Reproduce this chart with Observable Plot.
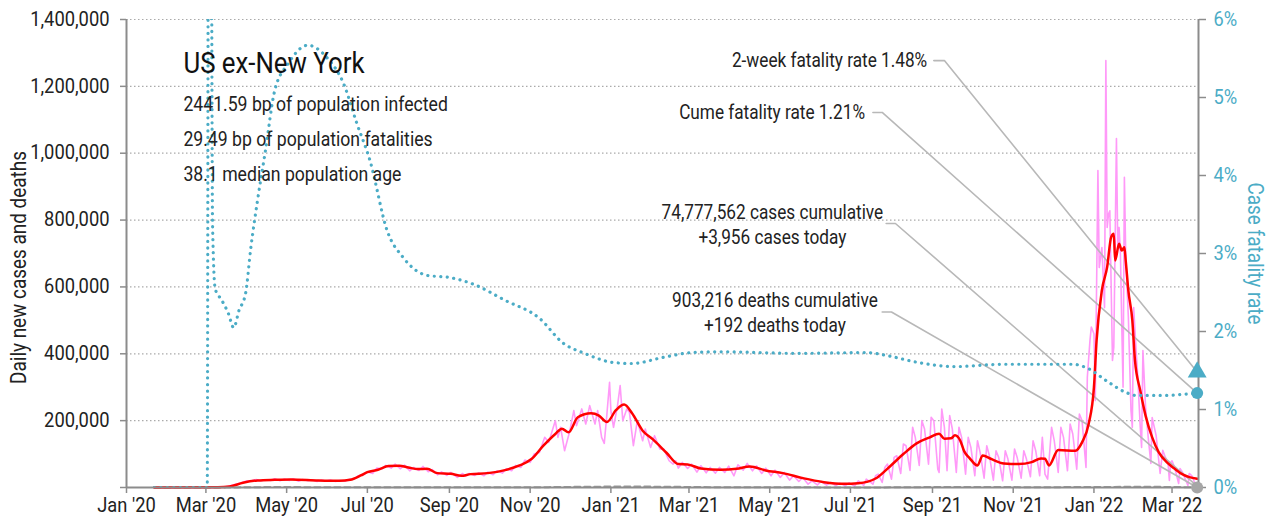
<!DOCTYPE html>
<html><head><meta charset="utf-8">
<script src="https://cdn.jsdelivr.net/npm/d3@7"></script>
<script src="https://cdn.jsdelivr.net/npm/@observablehq/plot@0.6"></script>
<style>
html,body{margin:0;padding:0;background:#fff;}
#chart svg{display:block;}
</style></head><body><div id="chart"></div>
<script>
// ---------- data ----------
const xDomain = ["2020-01-01", "2022-03-21"];
const yMax = 1400000;
const cfrMax = 6;
const caseTicks = [0, 200000, 400000, 600000, 800000, 1000000, 1200000, 1400000];
const cfrTicks = [0, 1, 2, 3, 4, 5, 6];
const monthTicks = ["2020-01-01","2020-03-01","2020-05-01","2020-07-01","2020-09-01","2020-11-01",
  "2021-01-01","2021-03-01","2021-05-01","2021-07-01","2021-09-01","2021-11-01","2022-01-01","2022-03-01"];

const title = "US ex-New York";
const subtitleLines = ["2441.59 bp of population infected", "29.49 bp of population fatalities", "38.1 median population age"];
const yLabelLeft = "Daily new cases and deaths";
const yLabelRight = "Case fatality rate";
const twoWeekRate = 1.48;
const cumeRate = 1.21;
const labelTwoWeek = "2-week fatality rate 1.48%";
const labelCume = "Cume fatality rate 1.21%";
const labelCases = ["74,777,562 cases cumulative", "+3,956 cases today"];
const labelDeaths = ["903,216 deaths cumulative", "+192 deaths today"];

const dailyCases = [
["2020-01-22",0],["2020-02-29",0],["2020-03-08",100],["2020-03-11",400],["2020-03-15",1500],["2020-03-18",3500],
["2020-03-22",8000],["2020-03-25",11000],["2020-03-29",16000],["2020-04-01",20000],["2020-04-05",21000],["2020-04-08",24000],
["2020-04-12",20000],["2020-04-15",23000],["2020-04-19",21000],["2020-04-22",26000],["2020-04-26",20000],["2020-04-29",25000],
["2020-05-03",21000],["2020-05-06",26000],["2020-05-10",19000],["2020-05-13",24000],["2020-05-17",20000],["2020-05-20",23000],
["2020-05-24",18000],["2020-05-27",22000],["2020-05-31",19000],["2020-06-03",22000],["2020-06-07",18000],["2020-06-10",21000],
["2020-06-14",19000],["2020-06-17",24000],["2020-06-21",26000],["2020-06-24",35000],["2020-06-28",38000],["2020-07-01",47000],
["2020-07-05",42000],["2020-07-08",58000],["2020-07-12",56000],["2020-07-15",66000],["2020-07-19",58000],["2020-07-22",70000],
["2020-07-26",56000],["2020-07-29",67000],["2020-08-02",50000],["2020-08-05",60000],["2020-08-09",51000],["2020-08-12",63000],
["2020-08-16",47000],["2020-08-19",54000],["2020-08-23",38000],["2020-08-26",47000],["2020-08-30",36000],["2020-09-02",45000],
["2020-09-07",30000],["2020-09-11",42000],["2020-09-13",34000],["2020-09-16",42000],["2020-09-20",36000],["2020-09-23",44000],
["2020-09-27",35000],["2020-09-30",46000],["2020-10-04",38000],["2020-10-07",50000],["2020-10-11",43000],["2020-10-14",56000],
["2020-10-18",50000],["2020-10-21",66000],["2020-10-25",60000],["2020-10-28",82000],["2020-11-01",75000],["2020-11-04",100000],
["2020-11-08",105000],["2020-11-12",150000],["2020-11-15",135000],["2020-11-20",200000],["2020-11-22",150000],["2020-11-24",180000],
["2020-11-27",110000],["2020-11-29",140000],["2020-12-01",170000],["2020-12-04",230000],["2020-12-06",185000],["2020-12-10",235000],
["2020-12-13",190000],["2020-12-16",245000],["2020-12-20",190000],["2020-12-22",230000],["2020-12-25",150000],["2020-12-27",132000],
["2020-12-29",220000],["2020-12-31",315000],["2021-01-01",230000],["2021-01-03",180000],["2021-01-06",245000],["2021-01-08",305000],
["2021-01-10",200000],["2021-01-13",235000],["2021-01-15",225000],["2021-01-18",125000],["2021-01-21",200000],["2021-01-25",140000],
["2021-01-27",175000],["2021-01-31",120000],["2021-02-03",155000],["2021-02-07",115000],["2021-02-10",115000],["2021-02-14",80000],
["2021-02-17",70000],["2021-02-19",80000],["2021-02-21",58000],["2021-02-24",75000],["2021-02-28",57000],["2021-03-03",70000],
["2021-03-07",46000],["2021-03-10",65000],["2021-03-14",44000],["2021-03-17",60000],["2021-03-21",43000],["2021-03-24",60000],
["2021-03-28",45000],["2021-03-31",64000],["2021-04-04",35000],["2021-04-07",68000],["2021-04-11",52000],["2021-04-14",72000],
["2021-04-18",50000],["2021-04-21",65000],["2021-04-25",42000],["2021-04-28",58000],["2021-05-02",35000],["2021-05-05",52000],
["2021-05-09",30000],["2021-05-12",45000],["2021-05-16",22000],["2021-05-19",35000],["2021-05-23",18000],["2021-05-26",30000],
["2021-05-30",10000],["2021-06-02",20000],["2021-06-06",8000],["2021-06-09",18000],["2021-06-13",7000],["2021-06-16",15000],
["2021-06-20",6000],["2021-06-23",13000],["2021-06-27",5000],["2021-06-30",14000],["2021-07-04",4000],["2021-07-07",20000],
["2021-07-11",6000],["2021-07-13",25000],["2021-07-18",10000],["2021-07-20",35000],["2021-07-22",40000],["2021-07-25",15000],
["2021-07-27",60000],["2021-07-29",70000],["2021-08-01",25000],["2021-08-03",90000],["2021-08-05",95000],["2021-08-08",42000],
["2021-08-10",130000],["2021-08-12",125000],["2021-08-15",51000],["2021-08-17",180000],["2021-08-19",150000],["2021-08-22",66000],
["2021-08-24",200000],["2021-08-26",175000],["2021-08-29",70000],["2021-08-31",210000],["2021-09-02",200000],["2021-09-05",55000],
["2021-09-06",45000],["2021-09-08",235000],["2021-09-10",180000],["2021-09-12",50000],["2021-09-14",215000],["2021-09-16",175000],
["2021-09-19",45000],["2021-09-21",180000],["2021-09-23",150000],["2021-09-26",40000],["2021-09-28",150000],["2021-09-30",120000],
["2021-10-03",35000],["2021-10-05",140000],["2021-10-07",105000],["2021-10-10",28000],["2021-10-12",125000],["2021-10-14",95000],
["2021-10-17",22000],["2021-10-19",110000],["2021-10-21",90000],["2021-10-24",20000],["2021-10-26",110000],["2021-10-28",85000],
["2021-10-31",22000],["2021-11-02",115000],["2021-11-04",90000],["2021-11-07",28000],["2021-11-09",110000],["2021-11-11",85000],
["2021-11-14",32000],["2021-11-16",140000],["2021-11-18",110000],["2021-11-21",35000],["2021-11-23",150000],["2021-11-25",40000],
["2021-11-27",25000],["2021-11-30",180000],["2021-12-02",140000],["2021-12-05",45000],["2021-12-07",180000],["2021-12-09",150000],
["2021-12-12",50000],["2021-12-14",190000],["2021-12-16",160000],["2021-12-19",55000],["2021-12-21",220000],["2021-12-23",200000],
["2021-12-26",60000],["2021-12-27",330000],["2021-12-29",440000],["2021-12-30",480000],["2022-01-01",460000],["2022-01-02",260000],
["2022-01-04",948000],["2022-01-05",658000],["2022-01-06",688000],["2022-01-07",718000],["2022-01-09",538000],["2022-01-10",1277000],
["2022-01-11",778000],["2022-01-12",818000],["2022-01-13",828000],["2022-01-15",380000],["2022-01-16",420000],["2022-01-18",1044000],
["2022-01-19",718000],["2022-01-20",778000],["2022-01-21",700000],["2022-01-22",490000],["2022-01-23",300000],["2022-01-24",928000],
["2022-01-25",698000],["2022-01-26",600000],["2022-01-27",510000],["2022-01-29",230000],["2022-01-30",180000],["2022-01-31",538000],
["2022-02-01",470000],["2022-02-02",400000],["2022-02-03",340000],["2022-02-05",180000],["2022-02-06",120000],["2022-02-07",410000],
["2022-02-09",240000],["2022-02-11",150000],["2022-02-13",72000],["2022-02-14",209000],["2022-02-17",155000],["2022-02-20",42000],
["2022-02-22",111000],["2022-02-24",90000],["2022-02-26",72000],["2022-02-27",21000],["2022-02-28",75000],["2022-03-01",80000],
["2022-03-03",60000],["2022-03-06",12000],["2022-03-07",57000],["2022-03-09",45000],["2022-03-13",6000],["2022-03-14",42000],
["2022-03-16",35000],["2022-03-19",5000],["2022-03-20",3956]
];

const avgCases = [
["2020-01-22",0],["2020-03-10",500],["2020-03-19",3000],["2020-03-29",14000],["2020-04-09",21000],["2020-04-22",23000],
["2020-05-04",24000],["2020-05-25",21000],["2020-06-10",20000],["2020-06-18",23000],["2020-06-26",36000],["2020-07-01",46000],
["2020-07-09",53000],["2020-07-17",64000],["2020-07-25",65000],["2020-08-01",60000],["2020-08-08",55000],["2020-08-15",56000],
["2020-08-23",43000],["2020-09-02",41000],["2020-09-10",35000],["2020-09-17",40000],["2020-09-30",43000],["2020-10-13",52000],
["2020-10-24",66000],["2020-11-02",85000],["2020-11-11",125000],["2020-11-20",160000],["2020-11-25",176000],["2020-11-30",165000],
["2020-12-07",210000],["2020-12-17",222000],["2020-12-23",215000],["2020-12-29",196000],["2021-01-05",232000],["2021-01-11",248000],
["2021-01-17",222000],["2021-01-25",170000],["2021-02-02",143000],["2021-02-12",104000],["2021-02-21",70000],["2021-02-28",69000],
["2021-03-10",57000],["2021-03-25",53000],["2021-04-06",56000],["2021-04-16",63000],["2021-04-28",51000],["2021-05-11",43000],
["2021-05-26",28000],["2021-06-11",16000],["2021-06-26",11000],["2021-07-07",13000],["2021-07-20",27000],["2021-07-30",60000],
["2021-08-10",100000],["2021-08-20",132000],["2021-08-30",150000],["2021-09-06",161000],["2021-09-10",146000],["2021-09-15",147000],
["2021-09-18",156000],["2021-09-22",140000],["2021-09-25",108000],["2021-09-29",88000],["2021-10-05",66000],["2021-10-09",96000],
["2021-10-15",86000],["2021-10-25",72000],["2021-11-05",70000],["2021-11-15",76000],["2021-11-22",87000],["2021-11-25",86000],
["2021-11-28",66000],["2021-12-05",112000],["2021-12-18",110000],["2021-12-23",135000],["2021-12-28",190000],["2022-01-01",300000],
["2022-01-03",440000],["2022-01-07",590000],["2022-01-11",660000],["2022-01-14",749000],["2022-01-16",759000],["2022-01-17",679000],
["2022-01-20",729000],["2022-01-22",709000],["2022-01-24",719000],["2022-01-25",679000],["2022-01-27",589000],["2022-01-30",500000],
["2022-02-01",380000],["2022-02-05",290000],["2022-02-09",215000],["2022-02-14",150000],["2022-02-19",105000],["2022-02-26",72000],
["2022-03-03",56000],["2022-03-09",39000],["2022-03-14",31000],["2022-03-20",26000]
];

const caseFatalityRate = [
["2020-01-22",0],["2020-03-02",0],["2020-03-03",9],["2020-03-05",8],["2020-03-06",3.4],["2020-03-08",2.55],["2020-03-11",2.45],
["2020-03-14",2.37],["2020-03-18",2.23],["2020-03-22",2.05],["2020-03-26",2.27],["2020-03-31",2.49],["2020-04-04",3.08],
["2020-04-09",3.68],["2020-04-15",4.32],["2020-04-22",5.09],["2020-05-02",5.43],["2020-05-17",5.67],["2020-06-01",5.50],
["2020-06-13",5.18],["2020-06-23",4.67],["2020-07-03",4.19],["2020-07-16",3.29],["2020-07-28",2.95],["2020-08-15",2.72],
["2020-09-02",2.69],["2020-09-20",2.6],["2020-10-13",2.4],["2020-11-08",2.17],["2020-11-26",1.85],["2020-12-12",1.72],
["2021-01-04",1.60],["2021-01-17",1.59],["2021-02-10",1.67],["2021-03-03",1.73],["2021-03-24",1.74],["2021-05-23",1.72],
["2021-07-13",1.73],["2021-07-29",1.69],["2021-08-22",1.60],["2021-09-17",1.55],["2021-10-25",1.58],["2021-12-16",1.58],
["2021-12-27",1.53],["2022-01-12",1.35],["2022-01-25",1.22],["2022-02-02",1.18],["2022-02-20",1.18],["2022-03-20",1.21]
];

const dailyDeaths = [
["2020-01-22",0],["2020-03-10",5],["2020-03-25",300],["2020-04-10",1100],["2020-04-25",1200],["2020-05-15",1100],
["2020-06-10",700],["2020-07-01",500],["2020-07-25",1000],["2020-08-15",1000],["2020-09-15",750],["2020-10-15",700],
["2020-11-15",1100],["2020-12-15",2300],["2021-01-12",3000],["2021-02-10",2400],["2021-03-10",1300],["2021-04-10",700],
["2021-05-10",600],["2021-06-10",350],["2021-07-10",250],["2021-08-10",550],["2021-09-15",1800],["2021-10-15",1500],
["2021-11-15",1000],["2021-12-15",1200],["2022-01-15",1800],["2022-02-05",2300],["2022-03-01",1500],["2022-03-20",192]
];

// ---------- build ----------
const FONT = "Roboto, 'Noto Sans', sans-serif";
const TEAL = "#4bacc6", PINK = "#ff99f8", RED = "#ff0000", GRAY = "#8c8c8c", LEADER = "#b8b8b8";
const parse = d3.utcParse("%Y-%m-%d");
const rows = arr => arr.map(([d, v]) => ({date: parse(d), value: v}));
const cfrToY = p => p * yMax / cfrMax;

const cases = rows(dailyCases);
const avg = rows(avgCases);
const cfr = rows(caseFatalityRate).map(r => ({date: r.date, value: cfrToY(r.value)}));
const deaths = rows(dailyDeaths);
const lastDate = cases[cases.length - 1].date;
const lastCases = cases[cases.length - 1].value;
const lastDeaths = deaths[deaths.length - 1].value;

// annotation layout (anchor positions in data space)
const annoEnd = [
  {date: parse("2021-08-28"), value: 1277000, text: labelTwoWeek},
  {date: parse("2021-07-12"), value: 1122000, text: labelCume}
];
const annoMid = [
  {date: parse("2021-05-03"), value: 822700, text: labelCases[0]},
  {date: parse("2021-05-03"), value: 747900, text: labelCases[1]},
  {date: parse("2021-05-05"), value: 559400, text: labelDeaths[0]},
  {date: parse("2021-05-05"), value: 484600, text: labelDeaths[1]}
];
const leaders = [
  ["a", "2021-09-02", "2021-09-10", 1277000, cfrToY(twoWeekRate)],
  ["b", "2021-07-18", "2021-07-25", 1122000, cfrToY(cumeRate)],
  ["c", "2021-07-28", "2021-08-04", 789800, lastCases],
  ["d", "2021-07-25", "2021-08-01", 525000, lastDeaths]
].flatMap(([id, d0, d1, v, end]) => [
  {id, date: parse(d0), value: v},
  {id, date: parse(d1), value: v},
  {id, date: lastDate, value: end}
]);

const titleRows = [{date: parse("2020-02-13"), value: 1268000, text: title}];
const subRows = subtitleLines.map((t, i) => ({date: parse("2020-02-13"), value: [1145700, 1041000, 936300][i], text: t}));

const chart = Plot.plot({
  width: 1270,
  height: 527,
  marginLeft: 126,
  marginRight: 72,
  marginTop: 19,
  marginBottom: 40,
  style: {fontFamily: FONT, fontSize: "20px", background: "#fff", color: "#222"},
  x: {type: "utc", domain: xDomain.map(parse)},
  y: {domain: [0, yMax]},
  marks: [
    Plot.ruleY(caseTicks.slice(1), {stroke: "#aaa", strokeWidth: 1.2, strokeDasharray: "1.5,2.5"}),
    Plot.line(cases, {x: "date", y: "value", stroke: PINK, strokeWidth: 1.6}),
    Plot.line(leaders, {x: "date", y: "value", z: "id", stroke: LEADER, strokeWidth: 1.6}),
    Plot.line(deaths, {x: "date", y: "value", stroke: "#999", strokeWidth: 2, strokeDasharray: "6,4", curve: "monotone-x"}),
    Plot.line(avg, {x: "date", y: "value", stroke: RED, strokeWidth: 2.5, curve: "monotone-x"}),
    Plot.line(cfr, {x: "date", y: "value", stroke: TEAL, strokeWidth: 3.2, strokeDasharray: "0.1,6.4", strokeLinecap: "round", curve: "monotone-x", clip: true}),
    // axes
    Plot.ruleX([parse(xDomain[0])], {stroke: GRAY, strokeWidth: 2}),
    Plot.ruleX([parse(xDomain[1])], {stroke: GRAY, strokeWidth: 2}),
    Plot.ruleY([0], {stroke: GRAY, strokeWidth: 2}),
    Plot.axisY({ticks: caseTicks, tickFormat: d => d ? d3.format(",")(d) : "", tickSize: 6, tickPadding: 11,
      fontSize: 19.5, stroke: GRAY, strokeWidth: 1.5, fill: "#222", label: null}),
    Plot.axisY({anchor: "right", ticks: cfrTicks.map(cfrToY), tickFormat: d => Math.round(d * cfrMax / yMax) + "%",
      tickSize: 7, tickPadding: 8, fontSize: 19.5, stroke: GRAY, strokeWidth: 1.5, fill: TEAL, label: null}),
    Plot.axisX({ticks: monthTicks.map(parse), tickFormat: d3.utcFormat("%b '%y"), tickSize: 6, tickPadding: 5,
      fontSize: 19.5, stroke: GRAY, strokeWidth: 1.5, fill: "#222", label: null}),
    // end markers
    Plot.dot([{date: lastDate, value: lastDeaths}], {x: "date", y: "value", r: 6, fill: "#a6a6a6"}),
    Plot.dot([{date: lastDate, value: cfrToY(cumeRate)}], {x: "date", y: "value", r: 6, fill: TEAL}),
    Plot.dot([{date: lastDate, value: cfrToY(twoWeekRate)}], {x: "date", y: "value", r: 7, symbol: "triangle", fill: TEAL}),
    // texts
    Plot.text(titleRows, {x: "date", y: "value", text: "text", textAnchor: "start", fontSize: 30, fill: "#111"}),
    Plot.text(subRows, {x: "date", y: "value", text: "text", textAnchor: "start", fontSize: 20.5, fill: "#222"}),
    Plot.text(annoEnd, {x: "date", y: "value", text: "text", textAnchor: "end", fontSize: 20, fill: "#222"}),
    Plot.text(annoMid, {x: "date", y: "value", text: "text", textAnchor: "middle", fontSize: 20, fill: "#222"}),
    Plot.text([yLabelLeft], {text: d => d, frameAnchor: "left", textAnchor: "middle", dx: -108, dy: 14, rotate: -90, fontSize: 22, fill: "#222"}),
    Plot.text([yLabelRight], {text: d => d, frameAnchor: "right", textAnchor: "middle", dx: 57, rotate: 90, fontSize: 22, fill: TEAL})
  ]
});
document.getElementById("chart").appendChild(chart);

// condense glyphs horizontally to mimic the narrow typeface of the original
function condense(svg) {
  svg.querySelectorAll("text").forEach(t => {
    const g = t.closest("g[aria-label]");
    const isTick = g && /tick label/.test(g.getAttribute("aria-label"));
    const k = isTick ? 0.94 : 0.86;
    const targets = t.querySelectorAll("tspan").length ? t.querySelectorAll("tspan") : [t];
    targets.forEach(el => {
      const L = el.getComputedTextLength();
      if (L > 0) {
        el.setAttribute("textLength", (L * k).toFixed(2));
        el.setAttribute("lengthAdjust", "spacingAndGlyphs");
      }
    });
  });
}
condense(chart);
</script>
</body></html>
